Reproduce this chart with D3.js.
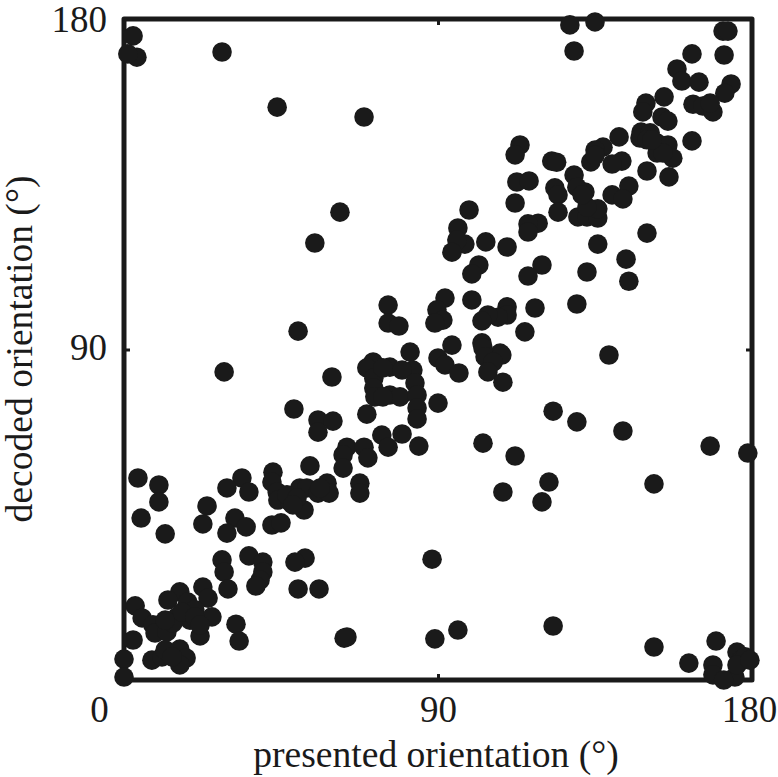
<!DOCTYPE html>
<html>
<head>
<meta charset="utf-8">
<script src="https://cdn.jsdelivr.net/npm/d3@7"></script>
<style>
  html, body { margin: 0; padding: 0; background: #fff; }
  text { font-family: "Liberation Serif", serif; fill: #1a1a1a; }
</style>
</head>
<body>
<svg id="chart" width="778" height="777" style="display:block"></svg>
<script>
const presented = [
  2.6,3.7,1.1,28.1,43.9,68.8,61.9,54.7,49.9,75.7,75.7,78.8,127.8,135.0,129.0,171.7,173.1,162.8,172.0,158.5,
  159.9,164.8,174.0,172.2,154.8,149.6,148.7,163.1,165.9,168.8,168.0,154.2,155.9,162.8,148.2,147.9,150.8,141.9,137.3,135.0,
  133.8,113.5,112.1,122.6,129.0,142.7,139.9,152.8,155.9,152.8,157.3,154.5,149.9,156.2,112.6,116.1,112.1,144.7,139.9,143.0,
  123.5,132.1,129.8,124.4,124.4,130.1,132.7,135.8,135.8,132.7,131.3,98.9,95.7,118.7,115.8,115.8,97.7,95.4,94.0,103.7,
  109.8,135.8,149.9,143.9,144.7,132.7,129.8,101.7,99.7,119.8,115.8,92.0,99.7,117.8,114.9,109.8,109.8,107.2,104.3,102.6,
  89.7,91.4,89.1,94.0,102.6,107.8,139.0,90.0,92.0,96.0,102.9,103.5,108.3,105.8,104.3,108.6,90.0,123.0,129.8,143.0,
  168.0,178.8,102.9,112.1,121.8,108.6,119.8,151.9,88.3,123.0,95.7,89.1,151.9,169.7,161.9,168.8,168.8,175.7,176.8,175.1,
  178.0,175.7,28.7,59.6,82.0,71.4,69.6,76.2,82.8,79.7,71.6,71.6,83.4,71.9,76.2,79.1,84.0,69.6,84.0,84.0,
  48.7,55.6,59.9,55.6,73.9,79.7,75.7,84.5,63.9,68.8,62.8,69.9,62.8,53.3,42.7,58.2,67.6,67.6,42.4,43.9,
  44.1,47.6,50.4,52.4,55.6,58.8,51.6,33.8,29.5,35.8,23.8,22.6,31.8,35.0,29.5,42.4,45.0,4.0,10.0,10.0,
  4.9,11.8,28.1,28.7,29.8,35.8,39.8,39.8,39.0,37.8,51.9,49.0,49.9,55.9,22.6,24.1,16.0,12.6,18.3,20.3,
  25.2,15.2,21.8,3.2,5.2,8.3,8.9,12.3,18.9,2.6,32.1,33.0,63.1,63.9,0,0,8.0,10.9,11.8,16.0,
  17.8,16.0,13.8,14.0,16.6,20.3,21.8,11.8,74.2,74.2,149.9,151.3,135.0,46.7,49.6,48.4,56.2,171.9,179.4,124.0
];
const decoded = [
  175.4,169.6,170.5,171.0,156.0,153.3,127.4,119.0,95.0,102.1,97.2,96.4,178.4,179.2,171.3,176.7,176.7,170.5,170.2,166.4,
  163.1,162.8,162.3,159.8,158.8,157.1,154.7,156.8,156.3,154.7,157.1,153.3,152.2,146.8,149.2,147.6,149.0,147.9,145.1,144.3,
  141.1,145.7,143.0,141.3,137.5,141.3,140.5,146.2,145.7,143.5,142.1,143.5,138.6,137.0,135.6,135.9,129.9,134.5,132.1,131.0,
  134.0,132.9,134.2,132.1,127.4,126.1,126.1,125.8,128.3,128.8,132.1,128.0,123.1,124.4,124.2,122.0,118.7,119.8,116.5,119.3,
  117.9,118.7,121.7,114.6,108.6,111.1,102.4,113.0,110.6,113.0,110.0,104.0,103.5,101.3,94.8,101.6,99.4,98.8,99.4,97.8,
  100.8,98.0,97.2,91.2,91.8,89.0,88.5,87.7,85.8,83.6,90.4,88.0,88.5,86.6,83.9,81.1,75.4,73.2,70.3,67.8,
  63.7,61.8,64.5,61.0,53.9,51.2,48.5,53.4,32.9,14.7,13.6,11.2,9.0,10.6,4.6,4.1,1.4,7.6,5.4,0.8,
  6.3,4.1,83.9,82.5,89.3,86.6,85.0,85.2,84.4,84.4,82.2,79.5,80.9,77.1,77.6,77.1,77.6,72.4,74.1,71.1,
  73.8,70.8,70.5,67.5,66.7,67.0,63.4,63.7,63.4,63.4,61.3,60.5,57.7,58.3,56.6,53.6,53.6,50.9,53.9,51.2,
  49.0,48.5,52.3,52.3,50.9,50.9,46.3,55.0,52.3,51.2,47.4,42.5,44.1,41.7,40.0,42.2,42.8,55.0,53.1,48.5,
  44.1,39.8,32.7,29.4,24.8,33.8,32.1,29.4,27.2,25.6,33.2,32.1,24.8,24.8,25.3,22.3,24.0,21.8,21.2,19.1,
  17.2,17.2,12.0,20.2,16.9,15.0,12.8,13.1,16.3,10.9,15.2,10.6,11.4,11.7,5.7,0.8,5.4,6.3,8.2,8.4,
  6.0,4.1,6.3,15.5,18.5,17.2,15.0,16.3,85.0,77.1,147.1,147.1,142.9,50.4,49.6,47.7,52.3,0,5.4,141.0
];
const ticks = [0, 90, 180];
const xLabel = "presented orientation (°)";
const yLabel = "decoded orientation (°)";

const svg = d3.select("#chart");
const boxLeft = 124, boxRight = 752, boxTop = 19, boxBottom = 680;
const ink = "#1a1a1a";

const x = d3.scaleLinear().domain([0, 180]).range([boxLeft, boxRight]);
const y = d3.scaleLinear().domain([0, 180]).range([boxBottom, boxTop]);

// box first, dots go over it
svg.append("rect")
  .attr("x", boxLeft).attr("y", boxTop)
  .attr("width", boxRight - boxLeft).attr("height", boxBottom - boxTop)
  .attr("fill", "none").attr("stroke", ink)
  .attr("stroke-width", 5).attr("stroke-linejoin", "round");

const xAxis = svg.append("g")
  .attr("transform", `translate(0,${boxBottom})`)
  .call(d3.axisBottom(x).tickValues(ticks).tickSizeInner(-6).tickSizeOuter(0).tickPadding(16));
const yAxis = svg.append("g")
  .attr("transform", `translate(${boxLeft},0)`)
  .call(d3.axisLeft(y).tickValues(ticks.slice(1)).tickSizeInner(-6).tickSizeOuter(0).tickPadding(17));
// small marks on the far sides too
svg.append("g")
  .attr("transform", `translate(0,${boxTop})`)
  .call(d3.axisTop(x).tickValues(ticks).tickSize(-6).tickFormat(""));
svg.append("g")
  .attr("transform", `translate(${boxRight},0)`)
  .call(d3.axisRight(y).tickValues(ticks).tickSize(-6).tickFormat(""));

svg.selectAll(".domain").remove();
svg.selectAll(".tick line").attr("stroke", ink).attr("stroke-width", 3);
svg.selectAll(".tick text").attr("font-size", 37).attr("font-family", "Liberation Serif").attr("fill", ink);
xAxis.selectAll(".tick text").attr("dx", d => d === 0 ? -25 : d === 180 ? -3 : 0);
yAxis.selectAll(".tick text").attr("dy", d => d === 90 ? 9.8 : 12.8);

svg.append("text")
  .attr("x", 436).attr("y", 767)
  .attr("text-anchor", "middle").attr("font-size", 37.6)
  .text(xLabel);
svg.append("text")
  .attr("transform", "translate(32,349) rotate(-90)")
  .attr("text-anchor", "middle").attr("font-size", 37.6)
  .text(yLabel);

svg.append("g")
  .selectAll("circle")
  .data(d3.zip(presented, decoded))
  .join("circle")
  .attr("cx", d => x(d[0]))
  .attr("cy", d => y(d[1]))
  .attr("r", 9.8)
  .attr("fill", ink);
</script>
</body>
</html>
